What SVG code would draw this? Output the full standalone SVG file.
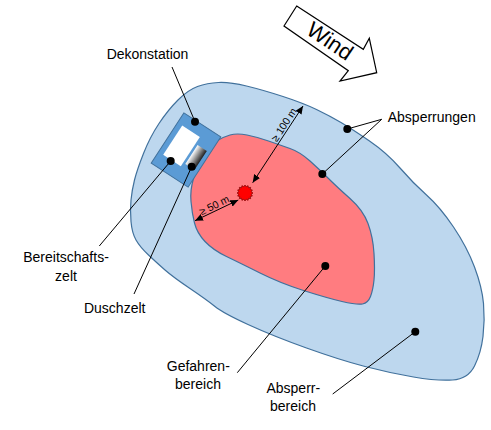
<svg xmlns="http://www.w3.org/2000/svg" width="491" height="430" viewBox="0 0 491 430">
<style>
.lbl{font-family:"Liberation Sans",Arial,sans-serif;font-size:14px;fill:#000;text-anchor:middle}
.dim{font-family:"Liberation Sans",Arial,sans-serif;font-size:10.5px;fill:#000;text-anchor:middle}
.lead{stroke:#000;stroke-width:1;fill:none}
.dot{fill:#000}
.zone{stroke:#41719C;stroke-width:1.2}
</style>
<defs>
<marker id="ah" viewBox="0 0 8 7" refX="8" refY="3.5" markerWidth="8" markerHeight="7" markerUnits="userSpaceOnUse" orient="auto-start-reverse">
<path d="M0,0 L8,3.5 L0,7 Z" fill="#000"/>
</marker>
<linearGradient id="dg" x1="0" y1="0" x2="1" y2="0">
<stop offset="0" stop-color="#ffffff"/>
<stop offset="1" stop-color="#1e1e1e"/>
</linearGradient>
</defs>
<rect width="491" height="430" fill="#fff"/>
<g id="absperrbereich">
<path class="zone" fill="#BDD7EE" d="M178,100 Q188,90 197.5,86.5 Q207,83 218.5,82.5 Q230,82 246.5,86 Q263,90 283,96.5 Q303,103 316.5,109.5 Q330,116 341,122.5 Q352,129 369.5,141 Q387,153 400,168 Q413,183 426.5,195 Q440,207 453.5,227 Q467,247 474.5,267 Q482,287 483.5,303.5 Q485,320 483,336.5 Q481,353 474.5,366 Q468,379 452.5,380 Q437,381 413.5,377 Q390,373 365,366.5 Q340,360 306.5,348 Q273,336 248,324.5 Q223,313 215,306.5 Q207,300 190,288.5 Q173,277 165,270 Q157,263 148.5,255 Q140,247 136,240 Q132,233 131,221.5 Q130,210 131,200 Q132,190 134.5,180 Q137,170 143.5,153.5 Q150,137 159,123.5 Q168,110 178,100 Z"/>
</g>
<g id="gefahrenbereich">
<path class="zone" fill="#FF7C80" d="M216.5,141 Q223,137 230,135 Q237,133 247,135 Q257,137 268.5,141 Q280,145 290,148.5 Q300,152 310,161 Q320,170 328.5,178.5 Q337,187 350,198.5 Q363,210 368,223.5 Q373,237 374,253.5 Q375,270 374,280 Q373,290 370.5,296.5 Q368,303 362.5,304 Q357,305 342,301.5 Q327,298 303.5,290.5 Q280,283 260,273 Q240,263 226.5,256.5 Q213,250 205,241.5 Q197,233 194.5,223 Q192,213 191,201.5 Q190,190 193.5,178.5 Q197,167 203.5,156 Q210,145 216.5,141 Z"/>
</g>
<g id="dekonstation" transform="translate(186,150) rotate(33)">
<rect x="-22" y="-30" width="44" height="60" fill="#5B9BD5" stroke="#41719C" stroke-width="1"/>
<rect id="bereitschaftszelt" x="-16.5" y="-18.5" width="21" height="35" fill="#fff"/>
<rect id="duschzelt" x="7" y="-10.5" width="11" height="22.5" fill="url(#dg)"/>
</g>
<g id="gefahrenquelle">
<polygon fill="#FF0000" stroke="#7a0000" stroke-width="0.7" points="253,193 251.18,194.23 252.39,196.06 250.24,196.5 250.66,198.66 248.5,198.24 248.06,200.39 246.23,199.18 245,201 243.77,199.18 241.94,200.39 241.5,198.24 239.34,198.66 239.76,196.5 237.61,196.06 238.82,194.23 237,193 238.82,191.77 237.61,189.94 239.76,189.5 239.34,187.34 241.5,187.76 241.94,185.61 243.77,186.82 245,185 246.23,186.82 248.06,185.61 248.5,187.76 250.66,187.34 250.24,189.5 252.39,189.94 251.18,191.77"/>
</g>
<g id="wind">
<polygon points="296.7,6 363.3,49.3 369.3,38.3 376.7,72.7 340,81 348.3,70.7 284,26" fill="#fff" stroke="#000" stroke-width="1.2" stroke-linejoin="miter"/>
<text transform="translate(330,41) rotate(34)" x="0" y="7.5" font-family="Liberation Sans,Arial,sans-serif" font-size="22" text-anchor="middle" fill="#000">Wind</text>
</g>
<g id="connectors">
<line class="lead" x1="303" y1="106" x2="252.7" y2="182.7" marker-start="url(#ah)" marker-end="url(#ah)"/>
<line class="lead" x1="195" y1="220.7" x2="238.3" y2="200" marker-start="url(#ah)" marker-end="url(#ah)"/>
<line class="lead" x1="172" y1="67" x2="195" y2="121.7"/>
<line class="lead" x1="99.3" y1="246" x2="170.7" y2="161"/>
<line class="lead" x1="134" y1="294" x2="191.7" y2="166.7"/>
<line class="lead" x1="381.7" y1="119.3" x2="347.3" y2="129"/>
<line class="lead" x1="381.7" y1="119.3" x2="322.3" y2="174"/>
<line class="lead" x1="237.3" y1="372.7" x2="325.3" y2="266"/>
<line class="lead" x1="332.7" y1="394" x2="415.3" y2="331.7"/>
<circle class="dot" cx="195" cy="121.7" r="4"/>
<circle class="dot" cx="170.7" cy="161" r="4"/>
<circle class="dot" cx="191.7" cy="166.7" r="4"/>
<circle class="dot" cx="347.3" cy="129" r="4"/>
<circle class="dot" cx="322.3" cy="174" r="4"/>
<circle class="dot" cx="325.3" cy="266" r="4"/>
<circle class="dot" cx="415.3" cy="331.7" r="4"/>
</g>
<g id="labels">
<text class="dim" transform="translate(287,126.7) rotate(-57)">≥ 100 m</text>
<text class="dim" transform="translate(215.8,208.5) rotate(-26)">≥ 50 m</text>
<text class="lbl" x="147.5" y="59">Dekonstation</text>
<text class="lbl" x="66" y="261.7">Bereitschafts-</text>
<text class="lbl" x="66" y="280.7">zelt</text>
<text class="lbl" x="114.7" y="313.3">Duschzelt</text>
<text class="lbl" x="431.7" y="121.7">Absperrungen</text>
<text class="lbl" x="198.3" y="370.7">Gefahren-</text>
<text class="lbl" x="198" y="389.3">bereich</text>
<text class="lbl" x="293.3" y="392.7">Absperr-</text>
<text class="lbl" x="293" y="411.3">bereich</text>
</g>
</svg>
